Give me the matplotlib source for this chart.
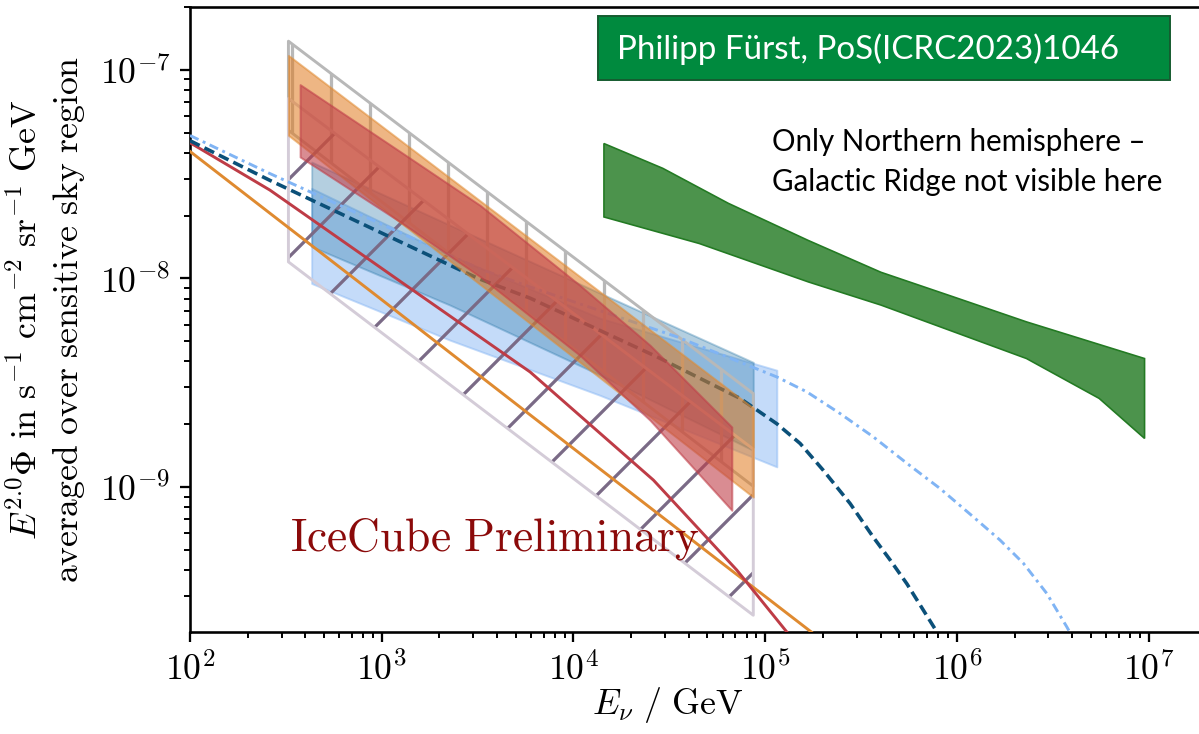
import numpy as np
import matplotlib
matplotlib.use("Agg")
import matplotlib.pyplot as plt
from matplotlib.patches import Rectangle
from matplotlib.ticker import FixedLocator, LogLocator, FuncFormatter, NullFormatter

# Agg hatch tile = 1 inch, so this dpi reproduces the coarse hatching of the original
DPI = 234

# E in GeV, flux as E^2 Phi in GeV s^-1 cm^-2 sr^-1
hatch_E = [3.26e2, 8.67e4]
hatch_up_hi = [1.371e-7, 2.805e-9]
hatch_up_lo = [5.13e-8, 1.009e-9]
hatch_low_hi = [7.29e-8, 1.52e-9]
hatch_low_lo = [1.20e-8, 2.43e-10]

orange_band_E = [3.26e2, 8.67e4]
orange_band_hi = [1.172e-7, 2.39e-9]
orange_band_lo = [4.85e-8, 8.95e-10]

red_band_E = [375, 1245, 3260, 1.08e4, 2.51e4, 6.70e4]
red_band_hi = [8.49e-8, 4.06e-8, 2.24e-8, 9.27e-9, 4.78e-9, 1.94e-9]
red_band_lo = [3.82e-8, 1.87e-8, 1.02e-8, 4.28e-9, 2.09e-9, 7.74e-10]

steel_band_E = [431, 2270, 1.38e4, 8.67e4]
steel_band_hi = [3.61e-8, 1.80e-8, 8.49e-9, 3.96e-9]
steel_band_lo = [1.42e-8, 7.45e-9, 3.44e-9, 1.50e-9]

sky_band_E = [431, 2270, 1.38e4, 1.15e5]
sky_band_hi = [2.70e-8, 1.29e-8, 6.44e-9, 3.63e-9]
sky_band_lo = [9.46e-9, 5.06e-9, 2.75e-9, 1.25e-9]

orange_E = [1e2, 1e3, 1e4, 1e5, 2e5]
orange_F = [4.06e-8, 7.9e-9, 1.53e-9, 2.99e-10, 1.83e-10]

red_E = [1e2, 261, 1245, 5943, 2.612e4, 7.112e4, 1.297e5, 1.585e5]
red_F = [4.47e-8, 2.65e-8, 9.70e-9, 3.56e-9, 1.08e-9, 4.0e-10, 2.02e-10, 1.61e-10]

dashed_E = [1e2, 261, 3177, 5943, 2.723e4, 7.396e4, 1.151e5, 1.521e5, 2.014e5,
            2.773e5, 3.664e5, 4.487e5, 5.483e5, 7.691e5, 8.913e5]
dashed_F = [4.57e-8, 2.95e-8, 1.0e-8, 8.04e-9, 4.21e-9, 2.66e-9, 2.01e-9, 1.618e-9,
            1.20e-9, 8.34e-10, 5.75e-10, 4.47e-10, 3.44e-10, 2.09e-10, 1.66e-10]

dashdot_E = [1e2, 261, 3258, 5943, 3.459e4, 1.151e5, 1.648e5, 2.46e5, 3.664e5,
             5.483e5, 8.166e5, 1.219e6, 1.679e6, 2.223e6, 2.944e6, 3.741e6, 4.365e6]
dashdot_F = [4.84e-8, 3.18e-8, 1.11e-8, 9.10e-9, 5.25e-9, 3.37e-9, 2.86e-9, 2.25e-9,
             1.74e-9, 1.30e-9, 9.84e-10, 7.19e-10, 5.57e-10, 4.31e-10, 3.09e-10,
             2.14e-10, 1.66e-10]

green_top_E = [1.442e4, 2.924e4, 6.427e4, 1.679e5, 4.018e5, 9.616e5, 2.307e6, 9.528e6]
green_top_F = [4.43e-8, 3.37e-8, 2.29e-8, 1.52e-8, 1.07e-8, 8.15e-9, 6.19e-9, 4.13e-9]
green_bot_E = [1.442e4, 4.529e4, 1.679e5, 4.018e5, 9.616e5, 2.307e6, 5.521e6, 9.528e6]
green_bot_F = [1.97e-8, 1.47e-8, 9.62e-9, 7.45e-9, 5.55e-9, 4.13e-9, 2.66e-9, 1.71e-9]

x_ticks = [1e2, 1e3, 1e4, 1e5, 1e6, 1e7]
y_ticks = [1e-9, 1e-8, 1e-7]

plt.rcParams["mathtext.fontset"] = "cm"
plt.rcParams["hatch.linewidth"] = 1.0

fig = plt.figure(figsize=((1199 + 0.01) / DPI, (734 + 0.01) / DPI), dpi=DPI)
ax = fig.add_axes([0.1585, 0.139, 0.8415, 0.8515])
ax.set_xscale("log")
ax.set_yscale("log")

# blue bands
ax.fill_between(sky_band_E, sky_band_lo, sky_band_hi, facecolor="#8ab8f4",
                edgecolor="#8ab8f4", alpha=0.5, lw=0.6, zorder=1)
ax.fill_between(steel_band_E, steel_band_lo, steel_band_hi, facecolor="#2a78a8",
                edgecolor="#2a78a8", alpha=0.35, lw=0.6, zorder=1.1)

# hatched bands
ax.fill_between(hatch_E, hatch_up_lo, hatch_up_hi, facecolor="none",
                edgecolor="#b8b8b8", hatch="|", lw=0.9, zorder=2)
ax.fill_between(hatch_E, hatch_low_lo, hatch_low_hi, facecolor="none",
                edgecolor="#7a6a86", hatch="/", lw=0, zorder=2)
ax.fill_between(hatch_E, hatch_low_lo, hatch_low_hi, facecolor="none",
                edgecolor="#d4ccd8", lw=0.9, zorder=2.1)

# model lines
ax.plot(orange_E, orange_F, color="#df8a30", lw=0.9, zorder=3)
ax.plot(red_E, red_F, color="#be3c46", lw=0.9, zorder=3)
ax.plot(dashed_E, dashed_F, color="#0b5079", lw=1.1, dashes=(3.0, 1.5), zorder=3)
ax.plot(dashdot_E, dashdot_F, color="#80b4f4", lw=0.9,
        dashes=(3.2, 1.6, 1.0, 1.6), zorder=3)

# orange / red bands on top
ax.fill_between(orange_band_E, orange_band_lo, orange_band_hi, facecolor="#e07b20",
                edgecolor="#e08a30", alpha=0.55, lw=0.6, zorder=4)
ax.fill_between(red_band_E, red_band_lo, red_band_hi, facecolor="#c0404a",
                edgecolor="#c0404a", alpha=0.6, lw=0.6, zorder=5)

# green band
ax.fill(list(green_top_E) + green_bot_E[::-1], list(green_top_F) + green_bot_F[::-1],
        facecolor="#4c934c", edgecolor="#237a23", lw=0.5, zorder=3)

ax.text(0.099, 0.131, r"$\mathrm{IceCube\ Preliminary}$", transform=ax.transAxes,
        color="#8b0a0a", fontsize=14, ha="left", va="baseline", zorder=6)

ax.set_xlim(1e2, 10 ** 7.263)
ax.set_ylim(2.02e-10, 2.0e-7)

fmt = FuncFormatter(lambda v, _: r"$10^{%d}$" % round(np.log10(v)))
for axis, ticks in ((ax.xaxis, x_ticks), (ax.yaxis, y_ticks)):
    axis.set_major_locator(FixedLocator(ticks))
    axis.set_minor_locator(LogLocator(base=10, subs=np.arange(2, 10), numticks=20))
    axis.set_major_formatter(fmt)
    axis.set_minor_formatter(NullFormatter())
ax.tick_params(which="major", direction="out", length=3, width=0.7, labelsize=11, pad=3)
ax.tick_params(which="minor", direction="out", length=1.8, width=0.6)
for side in ("left", "bottom", "top"):
    ax.spines[side].set_linewidth(0.8)
ax.spines["right"].set_visible(False)

ax.set_xlabel(r"$E_{\nu}\ /\ \mathrm{GeV}$", fontsize=11)
ax.xaxis.set_label_coords(0.474, -0.085)
ax.set_ylabel(r"$E^{2.0}\Phi\ \mathrm{in\ s^{-1}\ cm^{-2}\ sr^{-1}\ GeV}$" "\n"
              r"$\mathrm{averaged\ over\ sensitive\ sky\ region}$", fontsize=11)

# citation box and note (slide overlays)
fig.add_artist(Rectangle((0.4987, 0.891), 0.4771, 0.0872, transform=fig.transFigure,
                         facecolor="#008a3e", edgecolor="#155c30", lw=0.6))
fig.text(0.5146, 0.9196, "Philipp Fürst, PoS(ICRC2023)1046", color="white",
         fontsize=10.2, family="Lato", ha="left", va="baseline")
fig.text(0.6439, 0.7943, "Only Northern hemisphere \u2013", color="black",
         fontsize=9.1, family="Lato", ha="left", va="baseline")
fig.text(0.6439, 0.7398, "Galactic Ridge not visible here", color="black",
         fontsize=9.1, family="Lato", ha="left", va="baseline")

fig.savefig("out.png", dpi=DPI)
